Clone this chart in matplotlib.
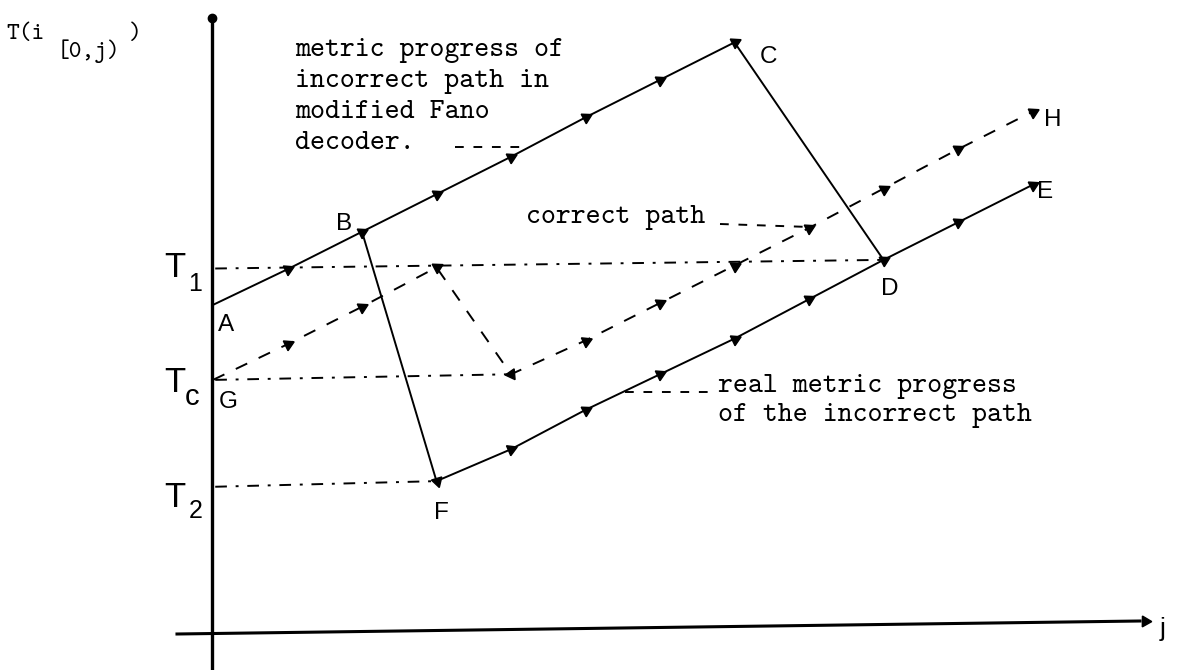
import numpy as np
import matplotlib.pyplot as plt
from matplotlib.markers import MarkerStyle

# node index j and path metric T(i[0,j)) at each node
j_fano = [0, 1, 2, 3, 4, 5, 6, 7]                   # A .. B .. C
m_fano = [8.75, 9.7, 10.7, 11.7, 12.7, 13.75, 14.75, 15.75]

j_real = [3, 4, 5, 6, 7, 8, 9, 10, 11]              # F .. D .. E
m_real = [4.05, 4.9, 5.95, 6.9, 7.85, 8.9, 9.95, 10.95, 11.95]

j_corr = [0, 1, 2, 3, 4, 5, 6, 7, 8, 9, 10, 11]     # G .. H
m_corr = [6.75, 7.7, 8.7, 9.75, 6.9, 7.8, 8.8, 9.8, 10.8, 11.85, 12.9, 13.9]

t_names = ["1", "c", "2"]
t_levels = [9.72, 6.75, 3.9]

W, H = 1184, 670
fig = plt.figure(figsize=(W / 100, H / 100), dpi=100)
fig.patch.set_facecolor("white")

# data axes: one j step = 74.5 px, one metric unit = 37.5 px
ax = fig.add_axes([0, 0, 1, 1])
ax.set_xlim(-213 / 74.5, (W - 213) / 74.5)
ax.set_ylim((633 - H) / 37.5, 633 / 37.5)
ax.axis("off")

# overlay in pixel units for the frame and the lettering
lay = fig.add_axes([0, 0, 1, 1], zorder=3)
lay.set_xlim(0, W)
lay.set_ylim(H, 0)
lay.axis("off")
lay.patch.set_alpha(0)

k = "black"
lw = 1.4

# axes of the sketch
lay.plot([212, 212], [19, 670], color=k, lw=2.4, solid_capstyle="butt")
lay.plot([212], [18], marker="o", ms=6, color=k)
lay.plot([177, 1140], [634, 621], color=k, lw=2.2)
lay.plot([1145], [621], marker=MarkerStyle((3, 0, -90.8)), ms=9, color=k)
lay.text(1160, 636, "j", fontsize=19, family="Liberation Sans", va="baseline")

# threshold levels
ends = [(j_real[6], m_real[6]), (j_corr[4], m_corr[4]), (j_real[0], m_real[0])]
for lvl, (je, me) in zip(t_levels, ends):
    ax.plot([0.03, je], [lvl, me], color=k, lw=lw, dashes=(6, 4.5, 1.5, 4.5))

# paths
ax.plot(j_fano, m_fano, color=k, lw=lw)
ax.plot([j_fano[-1], j_real[6]], [m_fano[-1], m_real[6]], color=k, lw=lw)
ax.plot([j_fano[2], j_real[0]], [m_fano[2], m_real[0]], color=k, lw=lw)
ax.plot(j_real, m_real, color=k, lw=lw)
ax.plot(j_corr, m_corr, color=k, lw=lw, dashes=(6.5, 6.5))


def heads(js, ms, prev=None):
    pts = ax.transData.transform(np.column_stack([js, ms]))
    if prev is not None:
        pts = np.vstack([ax.transData.transform([prev]), pts])
    for p0, p1 in zip(pts[:-1], pts[1:]):
        ang = np.degrees(np.arctan2(p1[1] - p0[1], p1[0] - p0[0]))
        x, y = ax.transData.inverted().transform(p1)
        ax.plot([x], [y], marker=MarkerStyle((3, 0, ang - 90)), ms=9,
                color=k, zorder=4)


heads(j_fano, m_fano)
heads(j_real, m_real, prev=(j_fano[2], m_fano[2]))
heads(j_corr, m_corr)

# node letters
sans = "Liberation Sans"
for s, x, y in [("A", 218, 331), ("B", 336, 230), ("C", 760, 63),
                ("D", 881, 295), ("E", 1037, 198), ("F", 434, 519),
                ("G", 219, 408), ("H", 1044, 126)]:
    lay.text(x, y, s, fontsize=17.5, family=sans, va="baseline")

# threshold names on the vertical axis
for name, y0, y1, xs, fsub in zip(t_names, [277, 392, 507], [291, 405, 518],
                                  [188, 185, 189], [18, 21, 18]):
    lay.text(164, y0, "T", fontsize=25, family=sans, va="baseline")
    lay.text(xs, y1, name, fontsize=fsub, family=sans, va="baseline")

# vertical axis name
mono = "cmtt10"
lay.text(6, 39, "T(i", fontsize=17.5, family=mono, va="baseline")
lay.text(57, 57, "[0,j)", fontsize=17.5, family=mono, va="baseline")
lay.text(129, 39, ")", fontsize=17.5, family=mono, va="baseline")

# annotations with dashed leaders
fs = 20.5
for i, line in enumerate(["metric progress of", "incorrect path in",
                          "modified Fano", "decoder."]):
    lay.text(295, 56 + 31 * i, line, fontsize=fs, family=mono, va="baseline")
lay.plot([455, 528], [147, 147], color=k, lw=1.4, dashes=(4.5, 5))

lay.text(526, 223, "correct path", fontsize=fs, family=mono, va="baseline")
lay.plot([720, 810], [224, 227], color=k, lw=1.4, dashes=(4.5, 5))

lay.text(718, 392, "real metric progress", fontsize=fs, family=mono,
         va="baseline")
lay.text(718, 421, "of the incorrect path", fontsize=fs, family=mono,
         va="baseline")
lay.plot([625, 710], [392, 392], color=k, lw=1.4, dashes=(4.5, 5))

fig.savefig("out.png", dpi=100, facecolor="white")
